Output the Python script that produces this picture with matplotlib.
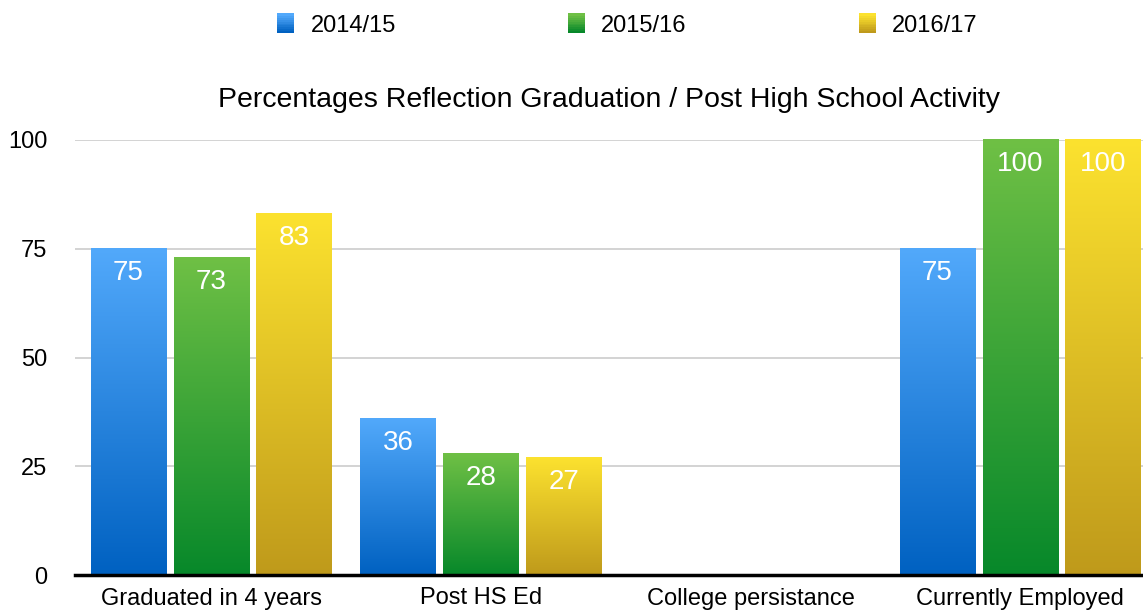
import numpy as np
import matplotlib
matplotlib.use('Agg')
import matplotlib.pyplot as plt
from matplotlib.colors import LinearSegmentedColormap
from matplotlib.patches import Rectangle
from matplotlib.legend_handler import HandlerBase

plt.rcParams['font.family'] = ['Liberation Sans', 'DejaVu Sans']

categories = ['Graduated in 4 years', 'Post HS Ed', 'College persistance', 'Currently Employed']
series = ['2014/15', '2015/16', '2016/17']
values_1415 = [75, 36, 0, 75]
values_1516 = [73, 28, 0, 100]
values_1617 = [83, 27, 0, 100]
all_values = [values_1415, values_1516, values_1617]

# top color, bottom color for each series
grad_colors = [('#52a9fb', '#0061c1'),
               ('#6fc045', '#07882a'),
               ('#fce22f', '#bf9a1b')]

fig = plt.figure(figsize=(11.43, 6.14), dpi=100)
ax = fig.add_axes([75 / 1143, 1 - 575 / 614, 1 - 75 / 1143, (575 - 140) / 614])

bar_w = 0.279
step = 0.307
x = np.arange(len(categories))
grad = np.linspace(1, 0, 256).reshape(-1, 1)

for i, vals in enumerate(all_values):
    cmap = LinearSegmentedColormap.from_list('g%d' % i, [grad_colors[i][1], grad_colors[i][0]])
    for xc, v in zip(x + (i - 1) * step, vals):
        if v <= 0:
            continue
        left = xc - bar_w / 2
        ax.imshow(grad, cmap=cmap, vmin=0, vmax=1, extent=(left, left + bar_w, 0, v),
                  aspect='auto', zorder=2, clip_on=False, interpolation='bicubic')
        ax.text(xc, v - 2.6, str(v), color='white', fontsize=20, ha='center', va='top', zorder=3)

ax.set_xlim(-0.505, 3.455)
ax.set_ylim(0, 100)
ax.set_yticks([0, 25, 50, 75, 100])
ax.set_xticks(x)
ax.set_xticklabels(categories, fontsize=17)
ax.tick_params(axis='y', labelsize=17, length=0, pad=20)
ax.tick_params(axis='x', length=0, pad=9)
ax.grid(axis='y', color='#cccccc', lw=1.2, zorder=0)
for s in ['top', 'right', 'left']:
    ax.spines[s].set_visible(False)
ax.spines['bottom'].set_linewidth(2.5)
ax.spines['bottom'].set_zorder(4)

ax.set_title('Percentages Reflection Graduation / Post High School Activity', fontsize=20.5, pad=24)


class GradHandler(HandlerBase):
    def __init__(self, top, bottom):
        super().__init__()
        self.top = top
        self.bottom = bottom

    def create_artists(self, legend, orig_handle, xdescent, ydescent, width, height, fontsize, trans):
        n = 10
        arts = []
        cmap = LinearSegmentedColormap.from_list('h', [self.bottom, self.top])
        w = 12
        h = 14
        y0 = -ydescent + height / 2 - h / 2
        for k in range(n):
            r = Rectangle((-xdescent + width - w, y0 + k * h / n), w, h / n + 0.3,
                          facecolor=cmap(k / (n - 1)), edgecolor='none', transform=trans)
            arts.append(r)
        return arts


handles = [Rectangle((0, 0), 1, 1) for _ in series]
hmap = {h: GradHandler(t, b) for h, (t, b) in zip(handles, grad_colors)}
fig.legend(handles, series, handler_map=hmap, loc='center', bbox_to_anchor=(0.546, 0.958),
           ncol=3, frameon=False, fontsize=17, columnspacing=7.0, handlelength=1.0, handletextpad=0.7)

fig.savefig('out.png', dpi=100)
